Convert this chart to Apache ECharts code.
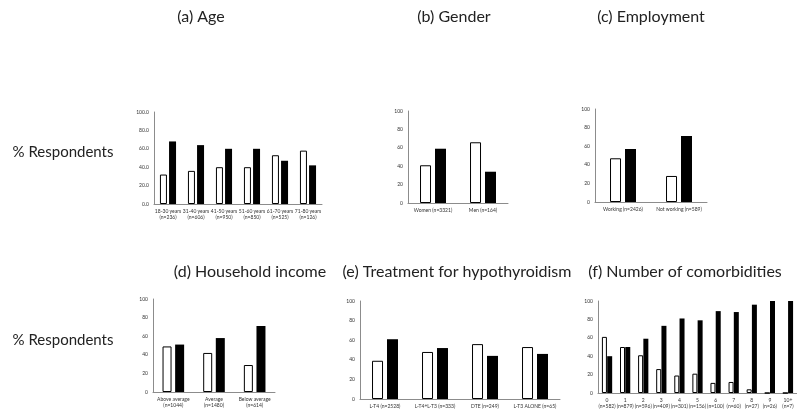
<!DOCTYPE html>
<html>
<head>
<meta charset="utf-8">
<script src="https://cdn.jsdelivr.net/npm/echarts@6/dist/echarts.min.js"></script>
<style>
  html, body { margin: 0; padding: 0; background: #fff; }
  #chart { width: 797px; height: 416px; }
</style>
</head>
<body>
<div id="chart"></div>
<script>
// panel data: open (white) bars and filled (black) bars, in %
var ageCats = ['18-30 years\n(n=236)', '31-40 years\n(n=606)', '41-50 years\n(n=950)', '51-60 years\n(n=850)', '61-70 years\n(n=525)', '71-80 years\n(n=126)'];
var ageOpen = [32, 36, 40, 40, 53, 58];
var ageFilled = [68, 64, 60, 60, 47, 42];

var genderCats = ['Women (n=3321)', 'Men (n=164)'];
var genderOpen = [41, 66];
var genderFilled = [59, 34];

var jobCats = ['Working (n=2426)', 'Not working (n=589)'];
var jobOpen = [47, 28];
var jobFilled = [57, 71];

var incomeCats = ['Above average\n(n=1044)', 'Average\n(n=1480)', 'Below average\n(n=614)'];
var incomeOpen = [49, 42, 29];
var incomeFilled = [51, 58, 71];

var treatCats = ['L-T4 (n=2528)', 'L-T4+L-T3 (n=333)', 'DTE (n=249)', 'L-T3 ALONE (n=65)'];
var treatOpen = [39, 48, 56, 53];
var treatFilled = [61, 52, 44, 46];

var comorbCats = ['0\n(n=582)', '1\n(n=879)', '2\n(n=596)', '3\n(n=409)', '4\n(n=301)', '5\n(n=156)', '6\n(n=100)', '7\n(n=60)', '8\n(n=27)', '9\n(n=26)', '10+\n(n=7)'];
var comorbOpen = [61, 50, 41, 26, 19, 21, 11, 12, 4, 0, 0];
var comorbFilled = [40, 50, 59, 73, 81, 79, 89, 88, 96, 100, 100];

var font = 'Lato, "Open Sans", sans-serif';

var panels = [
  { cats: ageCats, open: ageOpen, filled: ageFilled, grid: [154, 112, 168, 92], bw: 7, gap: '30%', dec: true },
  { cats: genderCats, open: genderOpen, filled: genderFilled, grid: [408, 111, 100, 92], bw: 11, gap: '36%' },
  { cats: jobCats, open: jobOpen, filled: jobFilled, grid: [595, 109, 112, 93], bw: 11, gap: '36%' },
  { cats: incomeCats, open: incomeOpen, filled: incomeFilled, grid: [153, 299, 122, 93], bw: 9, gap: '40%' },
  { cats: treatCats, open: treatOpen, filled: treatFilled, grid: [360, 301, 200, 98], bw: 11, gap: '36%' },
  { cats: comorbCats, open: comorbOpen, filled: comorbFilled, grid: [598, 301, 199, 92], bw: 5, gap: '5%' }
];

var grids = [], xAxes = [], yAxes = [], series = [];
panels.forEach(function (p, i) {
  grids.push({ left: p.grid[0], top: p.grid[1], width: p.grid[2], height: p.grid[3] });
  xAxes.push({
    type: 'category', gridIndex: i, data: p.cats,
    axisLine: { lineStyle: { color: '#8c8c8c', width: 1 } },
    axisTick: { show: false },
    axisLabel: { interval: 0, fontSize: 5, lineHeight: 6, color: '#333', fontFamily: font, margin: 4 }
  });
  yAxes.push({
    type: 'value', gridIndex: i, min: 0, max: 100, interval: 20,
    axisLine: { show: true, lineStyle: { color: '#8c8c8c', width: 1 } },
    axisTick: { show: false },
    splitLine: { show: false },
    axisLabel: {
      fontSize: 5, color: '#333', fontFamily: font, margin: 5,
      formatter: p.dec ? function (v) { return v.toFixed(1); } : '{value}'
    }
  });
  series.push({
    type: 'bar', xAxisIndex: i, yAxisIndex: i, data: p.open,
    barWidth: p.bw, barGap: p.gap, silent: true,
    itemStyle: { color: '#fff', borderColor: '#000', borderWidth: 1 }
  });
  series.push({
    type: 'bar', xAxisIndex: i, yAxisIndex: i, data: p.filled,
    barWidth: p.bw, barGap: p.gap, silent: true,
    itemStyle: { color: '#000' }
  });
});

var titles = [
  ['(a) Age', 201, 17, 16], ['(b) Gender', 454, 17, 16], ['(c) Employment', 651, 17, 16],
  ['(d) Household income', 250, 272, 16], ['(e) Treatment for hypothyroidism', 457, 272, 16], ['(f) Number of comorbidities', 685, 272, 16],
  ['% Respondents', 63, 152, 15], ['% Respondents', 63, 340, 15]
];

var chart = echarts.init(document.getElementById('chart'));
chart.setOption({
  animation: false,
  grid: grids,
  xAxis: xAxes,
  yAxis: yAxes,
  series: series,
  graphic: titles.map(function (t) {
    return {
      type: 'text', x: t[1], y: t[2],
      style: { text: t[0], fill: '#222', font: t[3] + 'px ' + font, textAlign: 'center', textVerticalAlign: 'middle' }
    };
  })
});
</script>
</body>
</html>
